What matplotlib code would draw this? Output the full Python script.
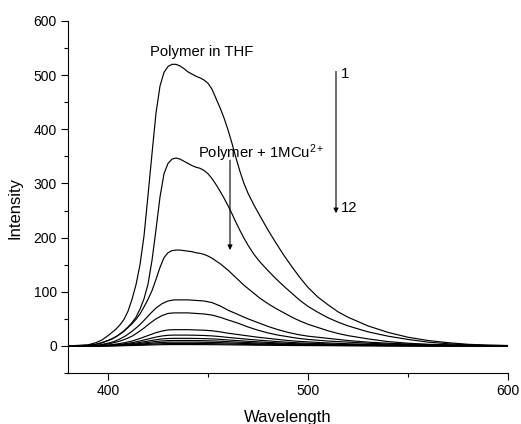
import matplotlib
matplotlib.use("Agg")
import matplotlib.pyplot as plt
from matplotlib.ticker import FixedLocator

plt.rcParams['font.family'] = ['Liberation Sans', 'DejaVu Sans']
plt.rcParams['mathtext.fontset'] = 'custom'
plt.rcParams['mathtext.rm'] = 'Liberation Sans'
plt.rcParams['mathtext.it'] = 'Liberation Sans:italic'
plt.rcParams['mathtext.bf'] = 'Liberation Sans:bold'

# fine wavelength grid for the three strongest spectra
wl_fine = [380, 390, 394, 397, 400, 402, 404, 406, 408, 410, 412, 414, 416, 418, 420, 422,
           424, 426, 428, 430, 432, 434, 436, 438, 440, 442, 444, 446, 448, 450, 452, 454,
           456, 458, 460, 462, 464, 466, 468, 470, 473, 476, 480, 484, 488, 492, 496, 500,
           505, 510, 515, 520, 530, 540, 550, 560, 570, 580, 590, 600]

c1 = [0, 2, 6, 11, 19, 25, 31, 39, 49, 64, 86, 113, 150, 203, 278, 355,
      430, 480, 505, 516, 520, 520, 517, 512, 506, 502, 498, 495, 491, 485, 474, 457,
      440, 421, 399, 374, 347, 322, 300, 282, 260, 240, 214, 190, 167, 146, 126, 108,
      90, 76, 63, 53, 37, 25, 16, 10, 6, 3, 1.5, 0.8]
c2 = [0, 1, 3, 6, 10, 13, 17, 22, 28, 35, 43, 53, 68, 87, 114, 158,
      215, 275, 318, 337, 345, 347, 345, 341, 337, 333, 330, 328, 324, 318, 309, 298,
      286, 273, 259, 244, 228, 213, 199, 186, 169, 155, 139, 124, 110, 97, 84, 73,
      62, 52, 44, 37, 26, 18, 12, 7, 4, 2, 1, 0.5]
c3 = [0, 1, 3, 6, 10, 13, 17, 22, 27, 34, 41, 49, 59, 72, 86, 102,
      123, 145, 163, 172, 176, 177, 177, 176, 175, 174, 172, 171, 169, 166, 162, 157,
      152, 146, 140, 133, 126, 119, 112, 106, 97, 88, 78, 69, 61, 53, 46, 40,
      34, 28, 23, 19, 13, 8, 5, 3, 2, 1, 0.5, 0.3]

# coarser grid for the weaker spectra
wavelength = [380, 390, 395, 400, 403, 406, 409, 412, 415, 418, 421, 424, 427, 430, 433, 436,
              440, 444, 448, 452, 456, 460, 465, 470, 475, 480, 485, 490, 495, 500,
              510, 520, 530, 540, 550, 560, 570, 580, 590, 600]

c4 = [0, 0.5, 1.5, 5, 8, 13, 19, 27, 36, 47, 59, 70, 78, 83, 85, 85,
      85, 84, 83, 80, 74, 66, 58, 50, 43, 36, 30, 25, 21, 18,
      14, 10, 7, 5, 3.5, 2.5, 1.5, 1, 0.5, 0.3]
c5 = [0, 0.3, 1, 3.5, 6, 9, 13, 18, 25, 33, 42, 50, 56, 60, 61, 61,
      61, 60, 59, 57, 53, 48, 42, 35, 29, 24, 20, 17, 14, 12,
      9, 7, 5, 3.5, 2.5, 1.8, 1.2, 0.8, 0.4, 0.2]
c6 = [0, 0.2, 0.5, 1.5, 2.8, 4.5, 6.5, 9, 12.5, 16.5, 20.5, 24.5, 27.5, 29.5, 30, 30,
      30, 29.5, 29, 28, 26, 23.5, 21, 18.5, 16, 14, 12, 10, 8.5, 7.5,
      5.5, 4, 3, 2, 1.3, 0.9, 0.6, 0.4, 0.2, 0.1]
c7 = [0, 0.1, 0.3, 1, 1.9, 3, 4.3, 6, 8.3, 11, 13.7, 16.3, 18.4, 19.6, 20, 20,
      20, 19.7, 19.3, 18.5, 17.3, 15.7, 14, 12.3, 10.7, 9.3, 8, 6.7, 5.7, 5,
      3.7, 2.7, 2, 1.3, 0.9, 0.6, 0.4, 0.3, 0.1, 0.1]
c8 = [0, 0.1, 0.2, 0.7, 1.3, 2.1, 3, 4.2, 5.8, 7.7, 9.6, 11.4, 12.9, 13.7, 14, 14,
      14, 13.8, 13.5, 13, 12.1, 11, 9.8, 8.6, 7.5, 6.5, 5.6, 4.7, 4, 3.5,
      2.6, 1.9, 1.4, 0.9, 0.6, 0.4, 0.3, 0.2, 0.1, 0.1]
c9 = [0, 0.05, 0.15, 0.5, 0.9, 1.5, 2.2, 3, 4.2, 5.5, 6.9, 8.2, 9.2, 9.8, 10, 10,
      10, 9.9, 9.6, 9.3, 8.7, 7.9, 7, 6.2, 5.4, 4.7, 4, 3.4, 2.9, 2.5,
      1.9, 1.4, 1, 0.7, 0.5, 0.3, 0.2, 0.1, 0.1, 0]
c10 = [0, 0, 0.1, 0.35, 0.65, 1, 1.5, 2.1, 2.9, 3.9, 4.8, 5.7, 6.4, 6.9, 7, 7,
       7, 6.9, 6.7, 6.5, 6.1, 5.5, 4.9, 4.3, 3.8, 3.3, 2.8, 2.4, 2, 1.8,
       1.3, 1, 0.7, 0.5, 0.3, 0.2, 0.1, 0.1, 0, 0]
c11 = [0, 0, 0.05, 0.2, 0.4, 0.65, 1, 1.35, 1.9, 2.5, 3.1, 3.7, 4.1, 4.4, 4.5, 4.5,
       4.5, 4.4, 4.3, 4.2, 3.9, 3.6, 3.2, 2.8, 2.4, 2.1, 1.8, 1.5, 1.3, 1.1,
       0.9, 0.6, 0.5, 0.3, 0.2, 0.1, 0.1, 0, 0, 0]
c12 = [0, 0, 0, 0.1, 0.2, 0.35, 0.55, 0.75, 1.05, 1.4, 1.75, 2.05, 2.3, 2.45, 2.5, 2.5,
       2.5, 2.45, 2.4, 2.3, 2.2, 2, 1.8, 1.6, 1.35, 1.2, 1, 0.85, 0.7, 0.6,
       0.5, 0.35, 0.25, 0.2, 0.1, 0.1, 0, 0, 0, 0]

strong = [c1, c2, c3]
weak = [c4, c5, c6, c7, c8, c9, c10, c11, c12]

fig = plt.figure(figsize=(5.21, 4.24), dpi=100)
ax = fig.add_axes([68/521, 51/424, 440/521, 352/424])

for c in strong:
    ax.plot(wl_fine, c, color='black', lw=0.85)
for c in weak:
    ax.plot(wavelength, c, color='black', lw=0.85)

ax.set_xlim(380, 600)
ax.set_ylim(-50, 600)

ax.spines['top'].set_visible(False)
ax.spines['right'].set_visible(False)
for s in ('left', 'bottom'):
    ax.spines[s].set_linewidth(0.8)

ax.xaxis.set_major_locator(FixedLocator([400, 500, 600]))
ax.xaxis.set_minor_locator(FixedLocator([450, 550]))
ax.yaxis.set_major_locator(FixedLocator([0, 100, 200, 300, 400, 500, 600]))
ax.yaxis.set_minor_locator(FixedLocator([-50, 50, 150, 250, 350, 450, 550]))
ax.tick_params(which='major', direction='out', length=5, width=0.8, labelsize=10, pad=3)
ax.tick_params(which='minor', direction='out', length=3, width=0.8)

ax.set_xlabel('Wavelength', fontsize=12)
ax.set_ylabel('Intensity', fontsize=12)
ax.xaxis.set_label_coords(0.5, -0.106)
ax.yaxis.set_label_coords(-0.104, 0.47)

ax.text(421, 542, 'Polymer in THF', fontsize=10.7, ha='left', va='center')
ax.text(444.8, 356, r'Polymer + 1MCu$^{2+}$', fontsize=10.7, ha='left', va='center')
ax.annotate('', xy=(461, 177), xytext=(461, 343),
            arrowprops=dict(arrowstyle='-|>', color='black', lw=0.8,
                            mutation_scale=7, shrinkA=0, shrinkB=0))
ax.annotate('', xy=(514, 245), xytext=(514, 507),
            arrowprops=dict(arrowstyle='-|>', color='black', lw=0.8,
                            mutation_scale=7, shrinkA=0, shrinkB=0))
ax.text(516.5, 503, '1', fontsize=10.7, ha='left', va='center')
ax.text(516.5, 254, '12', fontsize=10.7, ha='left', va='center')

fig.savefig('out.png', dpi=100)
